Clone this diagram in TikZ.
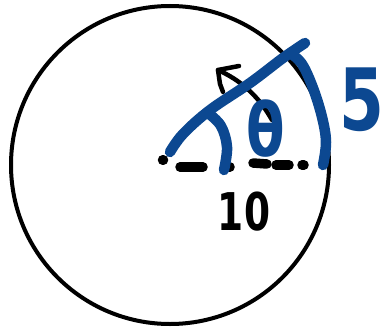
\documentclass[tikz,border=0pt]{standalone}
\usepackage{fontspec}
\setmainfont{DejaVu Sans}
\definecolor{penblue}{RGB}{12,72,145}
\begin{document}
\begin{tikzpicture}[x=1pt,y=-1pt,
  blackpen/.style={line width=9.5pt,line cap=round,line join=round,black},
  bluepen/.style={line width=10.5pt,line cap=round,line join=round,penblue},
  arrowpen/.style={line width=4.5pt,line cap=round,line join=round,black}]
\useasboundingbox (0,0) rectangle (385,329);
% circle
\draw[line width=4pt] (170,165) circle (159);
% dashed base line
\draw[blackpen] (162.5,160) -- (163.5,160);
\draw[blackpen] (180,167) -- (203,167);
\draw[blackpen] (226,167) -- (230,167);
\draw[blackpen] (253,163) -- (267,164);
\draw[blackpen] (276,165) -- (289,165);
\draw[blackpen] (302,165) -- (304,165);
% angle arrow
\draw[arrowpen] (272,120) .. controls (258,95) and (240,80) .. (218,70);
\draw[arrowpen] (239,66) -- (218,70) -- (220,84) -- (223,92);
% blue radius
\draw[bluepen] plot[smooth,tension=0.6] coordinates {(170,152) (183,134) (210,110) (250,83) (283,58) (305,43)};
% left tick
\draw[bluepen] plot[smooth,tension=0.6] coordinates {(208,113) (221,126) (227,147) (224,170)};
% right arc stroke
\draw[bluepen] plot[smooth,tension=0.6] coordinates {(290,53) (302,64) (313,88) (322,117) (326,142) (323,165)};
% labels
\node[penblue,font=\fontsize{66}{66}\selectfont\bfseries,inner sep=0pt,xscale=0.85,yscale=1.12] (theta) at (266,129) {θ};
\node[penblue,font=\fontsize{86}{86}\selectfont\bfseries,inner sep=0pt,xscale=0.75] (five) at (362,100) {5};
\node[black,font=\fontsize{52}{52}\selectfont\bfseries,inner sep=0pt,xscale=0.72] (ten) at (244,212) {10};
\end{tikzpicture}
\end{document}
